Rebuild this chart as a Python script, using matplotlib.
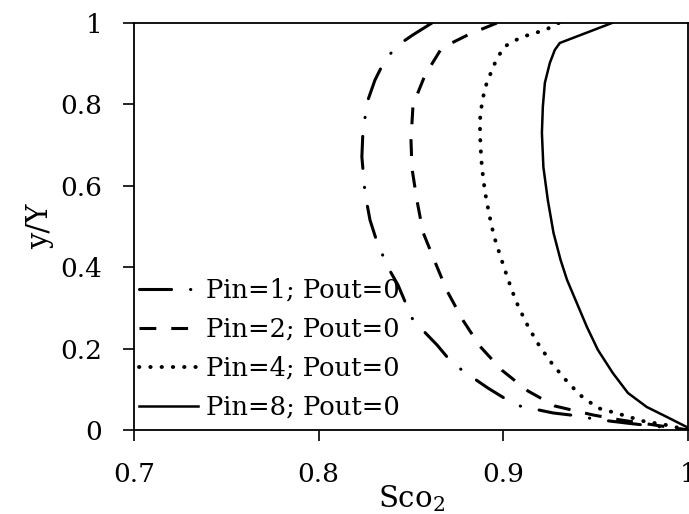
import matplotlib
matplotlib.use("Agg")
import matplotlib.pyplot as plt

plt.rcParams["font.family"] = ["DejaVu Serif"]
plt.rcParams["mathtext.fontset"] = "dejavuserif"

# values (Sco2 along x, y/Y along y)
y_pin1 = [1.0, 0.971, 0.946, 0.909, 0.860, 0.811, 0.737, 0.671, 0.582, 0.516,
          0.462, 0.400, 0.356, 0.310, 0.270, 0.209, 0.177, 0.147, 0.103, 0.079,
          0.059, 0.042, 0.037, 0.025, 0.017, 0.0]
x_pin1 = [0.8613, 0.8511, 0.8430, 0.8359, 0.8305, 0.8267, 0.8240, 0.8234, 0.8251, 0.8278,
          0.8316, 0.8375, 0.8430, 0.8473, 0.8511, 0.8641, 0.8700, 0.8776, 0.8917, 0.9003,
          0.9090, 0.9268, 0.9361, 0.9523, 0.9669, 1.0]

y_pin2 = [1.0, 0.973, 0.939, 0.872, 0.799, 0.713, 0.644, 0.565, 0.486, 0.413,
          0.342, 0.270, 0.206, 0.147, 0.096, 0.059, 0.037, 0.025, 0.0]
x_pin2 = [0.8965, 0.8818, 0.8667, 0.8576, 0.8511, 0.8500, 0.8505, 0.8532, 0.8565, 0.8630,
          0.8695, 0.8781, 0.8873, 0.8992, 0.9133, 0.9279, 0.9485, 0.9631, 1.0]

y_pin4 = [1.0, 0.985, 0.975, 0.968, 0.956, 0.941, 0.916, 0.892, 0.865, 0.840,
          0.813, 0.784, 0.757, 0.700, 0.646, 0.587, 0.533, 0.477, 0.423, 0.371,
          0.317, 0.265, 0.216, 0.170, 0.128, 0.086, 0.054, 0.039, 0.022, 0.012, 0.0]
x_pin4 = [0.9300, 0.9236, 0.9170, 0.9117, 0.9057, 0.9003, 0.8971, 0.8944, 0.8922, 0.8900,
          0.8889, 0.8878, 0.8873, 0.8876, 0.8884, 0.8900, 0.8922, 0.8949, 0.8987, 0.9025,
          0.9068, 0.9122, 0.9182, 0.9252, 0.9328, 0.9415, 0.9512, 0.9631, 0.9756, 0.9886, 1.0]

y_pin8 = [1.0, 0.951, 0.934, 0.902, 0.853, 0.794, 0.730, 0.646, 0.565, 0.484,
          0.418, 0.369, 0.312, 0.253, 0.197, 0.140, 0.091, 0.0565, 0.032, 0.007, 0.0]
x_pin8 = [0.9588, 0.9306, 0.9279, 0.9252, 0.9225, 0.9214, 0.9209, 0.9217, 0.9241, 0.9272,
          0.9310, 0.9345, 0.9398, 0.9453, 0.9512, 0.9593, 0.9675, 0.9777, 0.9886, 0.9995, 1.0]

labels = ["Pin=1; Pout=0", "Pin=2; Pout=0", "Pin=4; Pout=0", "Pin=8; Pout=0"]
x_ticks = [0.7, 0.8, 0.9, 1.0]
x_ticklabels = ["0.7", "0.8", "0.9", "1"]
y_ticks = [0, 0.2, 0.4, 0.6, 0.8, 1.0]
y_ticklabels = ["0", "0.2", "0.4", "0.6", "0.8", "1"]

fig = plt.figure(figsize=(6.89, 5.14), dpi=100)
ax = fig.add_axes([0.1945, 0.1634, 0.804, 0.7918])

ax.plot(x_pin1, y_pin1, color="black", lw=2.2, label=labels[0],
        linestyle=(0, (10.5, 6.2, 0.1, 6.2)), dash_capstyle="round")
ax.plot(x_pin2, y_pin2, color="black", lw=2.2, label=labels[1],
        linestyle=(0, (5.5, 4.9)))
ax.plot(x_pin4, y_pin4, color="black", lw=2.8, label=labels[2],
        linestyle=(0, (0.1, 2.8)), dash_capstyle="round")
ax.plot(x_pin8, y_pin8, color="black", lw=1.8, label=labels[3])

ax.set_xlim(0.7, 1.0)
ax.set_ylim(0, 1.0)
ax.set_xticks(x_ticks)
ax.set_xticklabels(x_ticklabels)
ax.set_yticks(y_ticks)
ax.set_yticklabels(y_ticklabels)
ax.tick_params(direction="out", length=8, width=1.2, labelsize=19, pad=15)

for s in ax.spines.values():
    s.set_linewidth(1.3)

ax.set_xlabel("Sco$_2$", fontsize=21, labelpad=-3)
ax.set_ylabel("y/Y", fontsize=21, labelpad=4)

ax.legend(loc="lower left", bbox_to_anchor=(0.0, 0.012), frameon=False,
          fontsize=18.5, handlelength=2.3, handletextpad=0.3,
          labelspacing=0.55, borderpad=0.2, borderaxespad=0.0)

fig.savefig("out.png", dpi=100)
